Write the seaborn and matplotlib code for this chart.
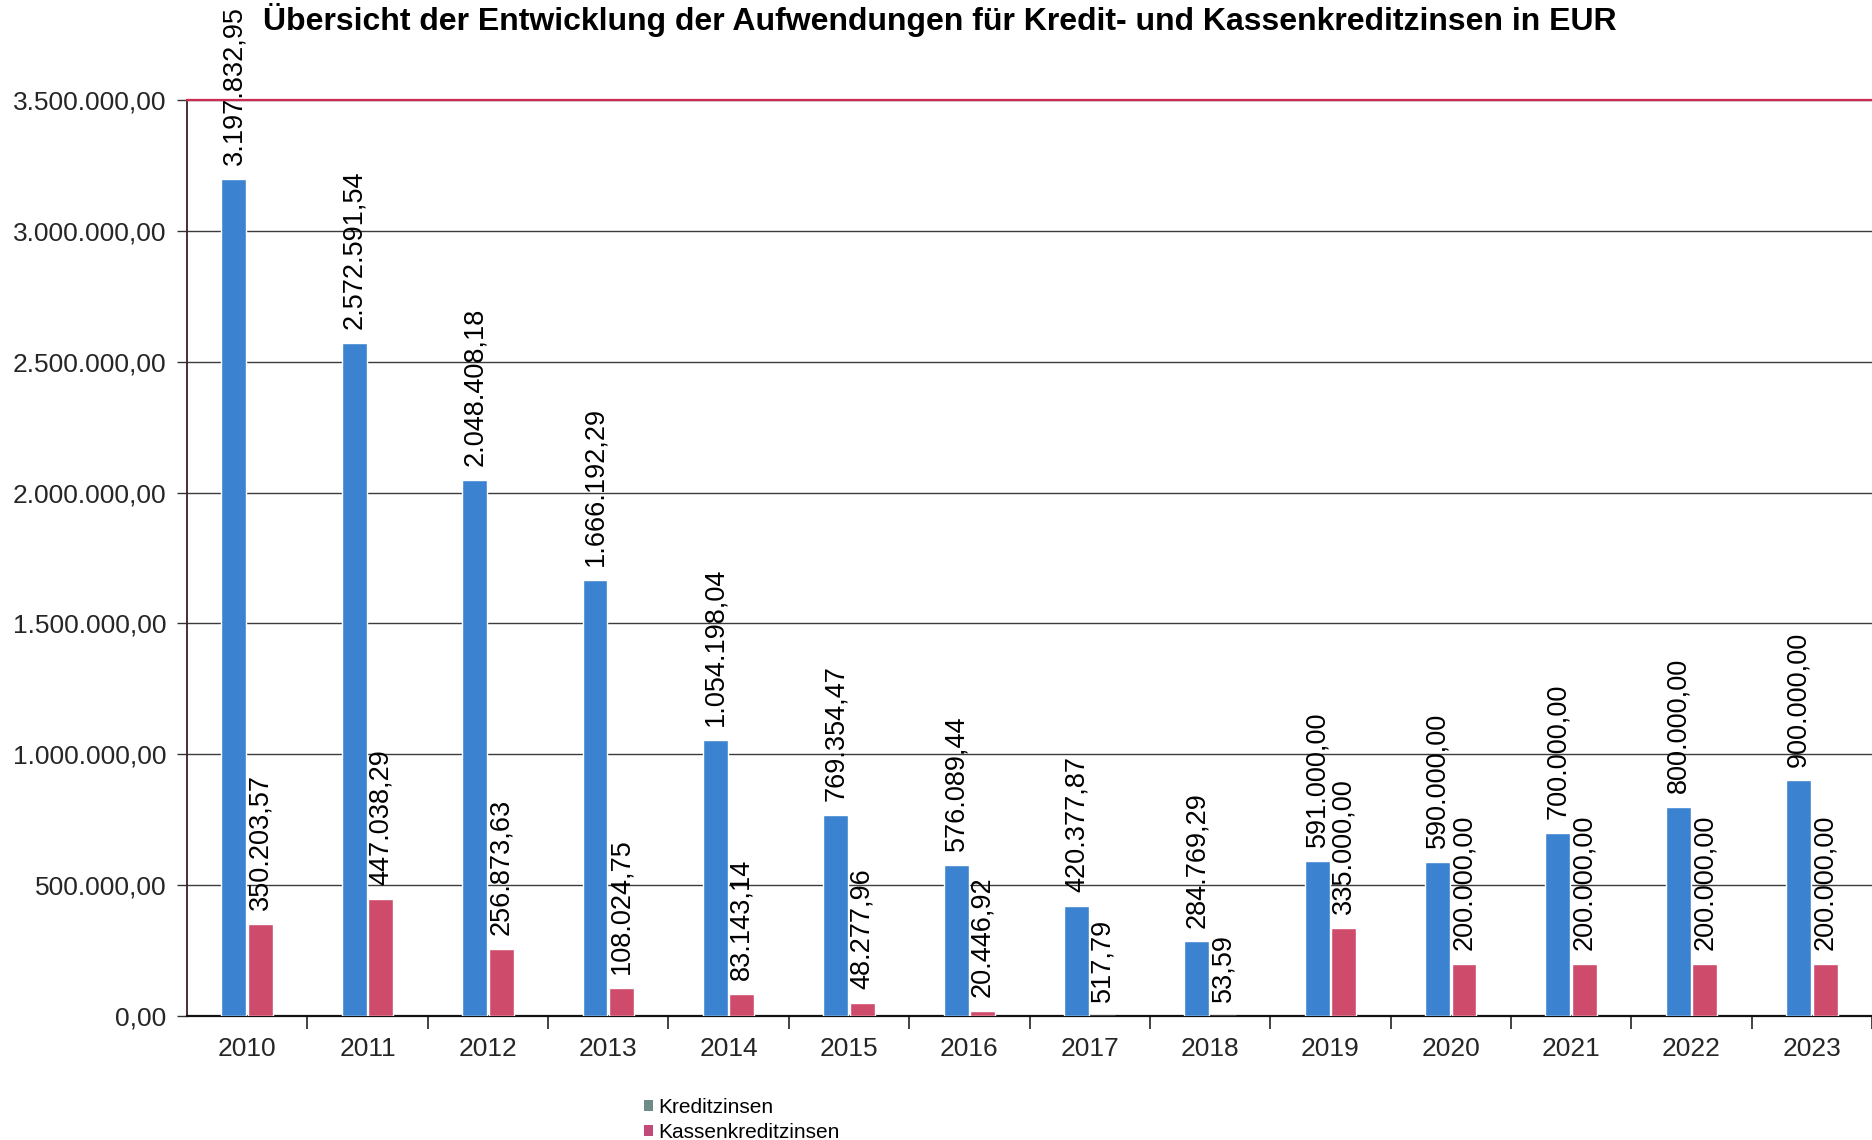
import matplotlib
matplotlib.use("Agg")
import matplotlib.pyplot as plt
import matplotlib.patches as mpatches
from matplotlib.ticker import FixedLocator, FuncFormatter
import seaborn as sns
import pandas as pd

# Jahre und Zinsaufwendungen in EUR
jahre = ["2010", "2011", "2012", "2013", "2014", "2015", "2016",
         "2017", "2018", "2019", "2020", "2021", "2022", "2023"]
kreditzinsen = [3197832.95, 2572591.54, 2048408.18, 1666192.29, 1054198.04,
                769354.47, 576089.44, 420377.87, 284769.29, 591000.00,
                590000.00, 700000.00, 800000.00, 900000.00]
kassenkreditzinsen = [350203.57, 447038.29, 256873.63, 108024.75, 83143.14,
                      48277.96, 20446.92, 517.79, 53.59, 335000.00,
                      200000.00, 200000.00, 200000.00, 200000.00]
reihen = ["Kreditzinsen", "Kassenkreditzinsen"]
y_ticks = [0, 500000, 1000000, 1500000, 2000000, 2500000, 3000000, 3500000]
titel = "Übersicht der Entwicklung der Aufwendungen für Kredit- und Kassenkreditzinsen in EUR"

farben = {"Kreditzinsen": "#3b83d0", "Kassenkreditzinsen": "#cf4b6b"}
legend_farben = {"Kreditzinsen": "#6e8c87", "Kassenkreditzinsen": "#c24a78"}


def de_format(v):
    s = f"{v:,.2f}"
    return s.replace(",", "X").replace(".", ",").replace("X", ".")


df = pd.DataFrame({
    "Jahr": jahre * 2,
    "Wert": kreditzinsen + kassenkreditzinsen,
    "Reihe": [reihen[0]] * len(jahre) + [reihen[1]] * len(jahre),
})

sns.set_theme(style="white")
plt.rcParams["font.family"] = ["Liberation Sans", "DejaVu Sans"]
plt.rcParams["text.color"] = "black"

fig = plt.figure(figsize=(18.72, 11.40), dpi=100)
ax = fig.add_axes([187 / 1872, 124 / 1140, 1 - 187 / 1872, 916 / 1140])

sns.barplot(data=df, x="Jahr", y="Wert", hue="Reihe", hue_order=reihen,
            order=jahre, palette=farben, width=0.44, gap=0.06,
            saturation=1, legend=False, ax=ax, zorder=3)

# Datenbeschriftungen senkrecht über den Säulen
for cont, werte in zip(ax.containers, [kreditzinsen, kassenkreditzinsen]):
    ax.bar_label(cont, labels=[de_format(v) for v in werte], rotation=90,
                 padding=10, fontsize=19.5, color="black")

ax.set_ylim(0, 3500000)
ax.set_xlim(-0.5, 13.39)
ax.yaxis.set_major_locator(FixedLocator(y_ticks))
ax.yaxis.set_major_formatter(FuncFormatter(lambda v, p: de_format(v)))
ax.grid(axis="y", color="#3c3c3c", linewidth=1.0, zorder=0)
ax.grid(axis="x", visible=False)
ax.set_axisbelow(True)

ax.tick_params(axis="y", which="major", labelsize=19, length=7, width=1,
               color="#333333", direction="out", pad=8, left=True)
ax.tick_params(axis="x", which="major", labelsize=19, length=0, pad=15)
ax.set_xticks([i + 0.5 for i in range(len(jahre))], minor=True)
ax.tick_params(axis="x", which="minor", length=9, width=1.2,
               color="#222222", direction="out", bottom=True)
ax.set_xlabel("")
ax.set_ylabel("")

ax.spines["right"].set_visible(False)
ax.spines["top"].set_color("#cc2a55")
ax.spines["top"].set_linewidth(1.6)
ax.spines["left"].set_color("#3b1f22")
ax.spines["left"].set_linewidth(1.3)
ax.spines["bottom"].set_color("#111111")
ax.spines["bottom"].set_linewidth(1.6)

fig.text(0.502, 1 - 30 / 1140, titel, ha="center", va="baseline",
         fontsize=23, fontweight="bold")

handles = [mpatches.Patch(facecolor=legend_farben[r], edgecolor="none", label=r)
           for r in reihen]
fig.legend(handles=handles, loc="upper left", bbox_to_anchor=(0.344, 0.037),
           frameon=False, fontsize=15, handlelength=0.45, handleheight=0.45,
           handletextpad=0.25, labelspacing=0.3, borderpad=0, borderaxespad=0)

fig.savefig("out.png", dpi=100, facecolor="white")
